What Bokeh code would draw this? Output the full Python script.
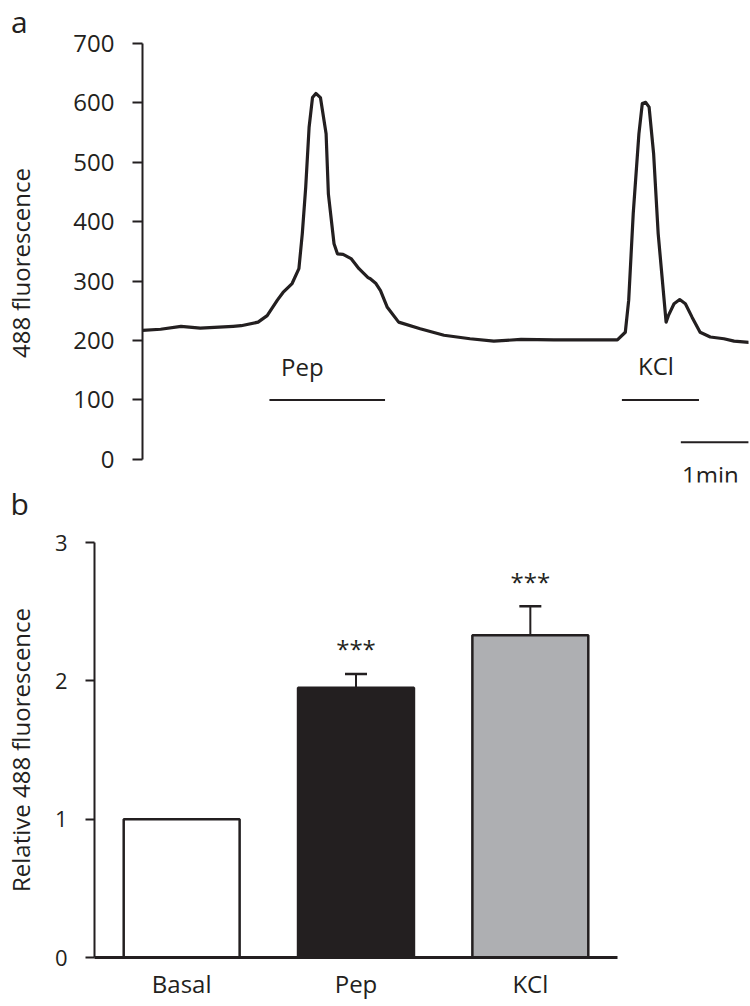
import numpy as np
from bokeh.plotting import figure
from bokeh.layouts import column
from bokeh.models import (Range1d, FactorRange, FixedTicker, ColumnDataSource,
                          Whisker, TeeHead, Title)
from bokeh.core.properties import value
from bokeh.embed import file_html
from bokeh.resources import INLINE

# ---------------- data ----------------
# Panel a: fluorescence trace (time in seconds, 488 fluorescence)
trace_t = [0, 16, 34, 51, 80, 87, 102, 110, 119, 124, 132, 138, 141, 144, 147, 150,
           153, 157, 162, 164, 169, 172, 177, 184, 191, 199, 201, 206, 210, 216, 226,
           245, 266, 289, 310, 334, 363, 393, 419, 426, 429, 433, 438, 441, 444, 447,
           451, 455, 462, 464, 469, 474, 479, 485, 492, 501, 513, 522, 535]
trace_v = [217, 219, 224, 221, 224, 225, 231, 242, 268, 281, 296, 321, 380, 458, 559, 609,
           616, 609, 548, 447, 363, 346, 345, 338, 321, 306, 304, 296, 284, 256, 231,
           220, 209, 203, 199, 202, 201, 201, 201, 214, 268, 414, 548, 599, 601, 593,
           514, 380, 231, 242, 262, 269, 262, 239, 214, 206, 203, 199, 197]

stim_names = ["Pep", "KCl"]
stim_start = [112, 423]
stim_end = [214, 491]
stim_level = [100, 100]
stim_label_t = [141, 453]
stim_label_v = [156, 158]

scale_start = 475
scale_len = 60          # 1 min
scale_level = 29
scale_label = "1min"
a_ticks = [0, 100, 200, 300, 400, 500, 600, 700]

# Panel b: relative fluorescence
cats = ["Basal", "Pep", "KCl"]
means = [1.0, 1.95, 2.33]
errs = [0.0, 0.10, 0.21]
sig = ["", "***", "***"]
bar_colors = ["#ffffff", "#231f20", "#aeafb2"]
b_ticks = [0, 1, 2, 3]

INK = "#231f20"
FONT = "Open Sans"


def style_yaxis(ax, ticks, tick_out, label, label_size, tick_size, label_standoff):
    ax.ticker = FixedTicker(ticks=ticks)
    ax.minor_tick_line_color = None
    ax.major_tick_in = 0
    ax.major_tick_out = tick_out
    ax.axis_line_width = 2
    ax.major_tick_line_width = 2
    ax.axis_line_color = INK
    ax.major_tick_line_color = INK
    ax.major_label_text_font = FONT
    ax.major_label_text_font_size = tick_size
    ax.major_label_text_color = INK
    ax.major_label_standoff = 18
    ax.axis_label = label
    ax.axis_label_text_font = FONT
    ax.axis_label_text_font_size = label_size
    ax.axis_label_text_font_style = "normal"
    ax.axis_label_text_color = INK
    ax.axis_label_standoff = label_standoff


# ---------------- panel a ----------------
pa = figure(width=750, height=525, output_backend="svg", toolbar_location=None,
            x_range=Range1d(0, 534.7), y_range=Range1d(-38.9, 700),
            x_axis_location=None, frame_align=False,
            min_border_left=142, min_border_right=2, min_border_top=43, min_border_bottom=40)
pa.outline_line_color = None
pa.grid.visible = False
pa.background_fill_color = "white"
pa.border_fill_color = "white"

ya = pa.yaxis[0]
ya.bounds = (0, 700)
style_yaxis(ya, a_ticks, 10, "488 fluorescence", "24px", "24px", 33)

pa.title.text = "a"
pa.title.text_font = FONT
pa.title.text_font_size = "30px"
pa.title.text_font_style = "normal"
pa.title.text_color = INK
pa.title.align = "left"
pa.title.vertical_align = "top"
pa.title.offset = -131.5
pa.title.standoff = 0

pa.add_layout(Title(text="b", text_font=FONT, text_font_size="30px", text_font_style="normal",
                    text_color=INK, align="left", vertical_align="top", offset=-132,
                    standoff=0), "below")

pa.line(trace_t, trace_v, line_width=3.2, line_color=INK, line_join="round", line_cap="round")
pa.segment(x0=stim_start, y0=stim_level, x1=stim_end, y1=stim_level,
           line_width=2, line_color=INK)
pa.text(x=stim_label_t, y=stim_label_v, text=stim_names, text_font=value(FONT),
        text_font_size="24px", text_align="center", text_baseline="middle", text_color=INK)
pa.segment(x0=[scale_start], y0=[scale_level], x1=[scale_start + scale_len], y1=[scale_level],
           line_width=2, line_color=INK)
pa.text(x=[scale_start + scale_len / 2 - 4], y=[-25.5], text=[scale_label], text_font=value(FONT),
        text_font_size="24px", text_align="center", text_baseline="middle", text_color=INK)

# ---------------- panel b ----------------
pb = figure(width=750, height=481, output_backend="svg", toolbar_location=None,
            x_range=FactorRange(*cats, range_padding=0), y_range=Range1d(0, 3),
            frame_align=False,
            min_border_left=93, min_border_right=133, min_border_top=17, min_border_bottom=49)
pb.outline_line_color = None
pb.grid.visible = False
pb.background_fill_color = "white"
pb.border_fill_color = "white"

yb = pb.yaxis[0]
style_yaxis(yb, b_ticks, 9, "Relative 488 fluorescence", "24px", "22px", 15)

xb = pb.xaxis[0]
xb.axis_line_width = 3
xb.axis_line_color = INK
xb.major_tick_line_color = None
xb.minor_tick_line_color = None
xb.major_tick_in = 0
xb.major_tick_out = 0
xb.major_label_text_font = FONT
xb.major_label_text_font_size = "24px"
xb.major_label_text_color = INK
xb.major_label_standoff = 9

src = ColumnDataSource(dict(cat=cats, top=means, color=bar_colors))
pb.vbar(x="cat", top="top", width=0.665, bottom=0, source=src, fill_color="color",
        line_color=INK, line_width=2.5)

keep = [i for i, e in enumerate(errs) if e > 0]
esrc = ColumnDataSource(dict(base=[cats[i] for i in keep],
                             lower=[means[i] for i in keep],
                             upper=[means[i] + errs[i] for i in keep],
                             sig=[sig[i] for i in keep]))
pb.add_layout(Whisker(base="base", lower="lower", upper="upper", source=esrc,
                      line_width=2, line_color=INK, lower_head=None,
                      upper_head=TeeHead(size=22, line_width=2.5, line_color=INK)))
pb.text(x="base", y="upper", text="sig", source=esrc, text_font=value(FONT),
        text_font_size="24px", text_align="center", text_baseline="alphabetic",
        y_offset=-25, text_color=INK)

layout = column(pa, pb, spacing=0)
open("out.html", "w").write(file_html(layout, INLINE))
